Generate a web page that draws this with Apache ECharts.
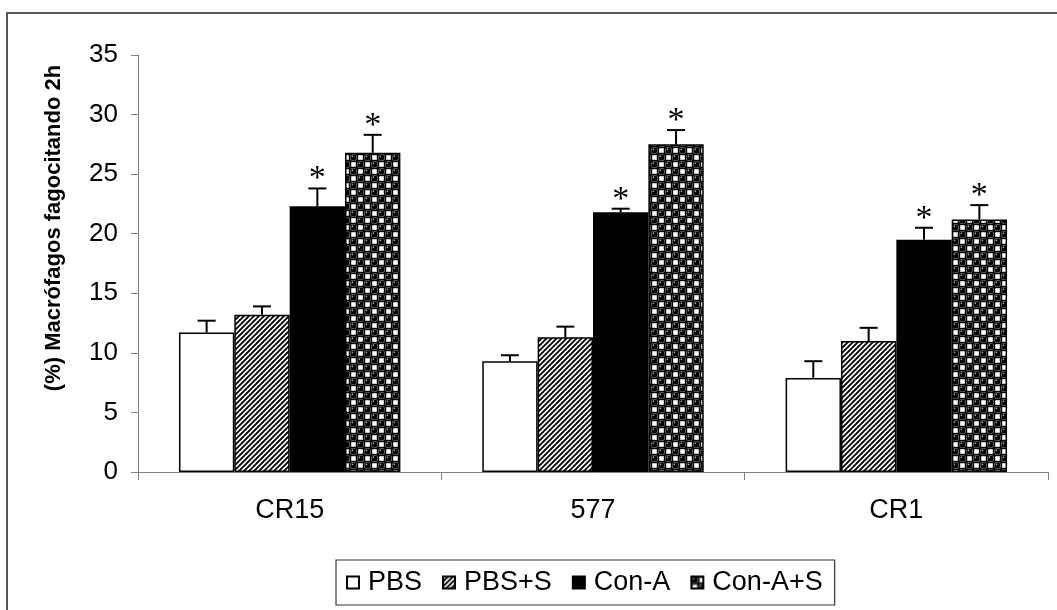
<!DOCTYPE html>
<html>
<head>
<meta charset="utf-8">
<script src="https://cdn.jsdelivr.net/npm/echarts@6/dist/echarts.min.js"></script>
<style>html,body{margin:0;padding:0;background:#fff}#c{width:1057px;height:610px}</style>
</head>
<body>
<div id="c"></div>
<script>
// ---- data ----
const categories = ['CR15', '577', 'CR1'];
const seriesNames = ['PBS', 'PBS+S', 'Con-A', 'Con-A+S'];
const pbs      = [11.7, 9.3, 7.9];
const pbsErr   = [1.0, 0.5, 1.4];
const pbsS     = [13.2, 11.3, 11.0];
const pbsSErr  = [0.7, 0.9, 1.1];
const conA     = [22.3, 21.8, 19.5];
const conAErr  = [1.5, 0.3, 1.0];
const conAS    = [26.8, 27.5, 21.2];
const conASErr = [1.5, 1.2, 1.2];
const signif   = [[0,0,0],[0,0,0],[1,1,1],[1,1,1]];
const yTicks   = [0, 5, 10, 15, 20, 25, 30, 35];
const yTitle   = '(%) Macrófagos fagocitando 2h';

const means = [pbs, pbsS, conA, conAS];
const errs  = [pbsErr, pbsSErr, conAErr, conASErr];

// ---- patterns ----
function hatchPattern() {
  const s = 5, c = document.createElement('canvas');
  c.width = s; c.height = s;
  const g = c.getContext('2d');
  g.fillStyle = '#fff'; g.fillRect(0, 0, s, s);
  g.strokeStyle = '#000'; g.lineWidth = 1.9;
  g.beginPath();
  g.moveTo(-1, s + 1); g.lineTo(s + 1, -1);
  g.moveTo(-1, 1); g.lineTo(1, -1);
  g.moveTo(s - 1, s + 1); g.lineTo(s + 1, s - 1);
  g.stroke();
  return c;
}
function ballPattern() {
  const cell = 7, s = cell * 2, c = document.createElement('canvas');
  c.width = s; c.height = s;
  const g = c.getContext('2d');
  g.fillStyle = '#000'; g.fillRect(0, 0, s, s);
  const w = 4.6;
  [[1, 0], [0, 1]].forEach(p => {
    const cx = p[0] * cell + cell / 2, cy = p[1] * cell + cell / 2;
    g.fillStyle = '#fff';
    g.fillRect(cx - w / 2, cy - w / 2, w, w);
  });
  [[0, 0], [1, 1]].forEach(p => {
    const cx = p[0] * cell + cell / 2, cy = p[1] * cell + cell / 2;
    g.fillStyle = '#8a8a8a';
    g.beginPath(); g.arc(cx, cy, 3.5, 0, Math.PI * 2); g.fill();
    g.fillStyle = '#000';
    g.beginPath(); g.arc(cx, cy, 2.9, 0, Math.PI * 2); g.fill();
    g.fillStyle = '#b0b0b0';
    g.beginPath(); g.arc(cx - 1.1, cy - 1.1, 0.8, 0, Math.PI * 2); g.fill();
  });
  return c;
}
const fills = [
  '#ffffff',
  { image: hatchPattern(), repeat: 'repeat' },
  '#000000',
  { image: ballPattern(), repeat: 'repeat' }
];

const GAP = 0.27;
const FONT = '"Liberation Sans", Arial, sans-serif';

const barSeries = seriesNames.map((n, i) => ({
  name: n,
  type: 'bar',
  data: means[i],
  barGap: '0%',
  barCategoryGap: (GAP * 100) + '%',
  itemStyle: { color: fills[i], borderColor: '#000', borderWidth: 1.5 },
  emphasis: { disabled: true },
  silent: true,
  z: 2
}));

const errData = [];
means.forEach((arr, si) => arr.forEach((v, ci) => {
  errData.push([ci, v, errs[si][ci], si, signif[si][ci]]);
}));

const errSeries = {
  type: 'custom',
  name: 'err',
  z: 5,
  silent: true,
  data: errData,
  encode: { x: 0, y: 1 },
  renderItem: function (params, api) {
    const ci = api.value(0), v = api.value(1), e = api.value(2), si = api.value(3), sig = api.value(4);
    const bandW = api.size([1, 0])[0];
    const barW = bandW * (1 - GAP) / 4;
    const base = api.coord([ci, v]);
    const top = api.coord([ci, v + e]);
    const x = base[0] + (si - 1.5) * barW;
    const st = { stroke: '#000', lineWidth: 2 };
    const children = [
      { type: 'line', shape: { x1: x, y1: base[1], x2: x, y2: top[1] }, style: st },
      { type: 'line', shape: { x1: x - 9, y1: top[1], x2: x + 9, y2: top[1] }, style: st }
    ];
    if (sig) {
      children.push({
        type: 'text',
        style: {
          text: '*', x: x, y: top[1] - 26,
          fill: '#000', font: '34px "Liberation Serif", "Times New Roman", serif',
          align: 'center', verticalAlign: 'top'
        }
      });
    }
    return { type: 'group', children: children };
  }
};

const chart = echarts.init(document.getElementById('c'), null, { renderer: 'canvas' });
chart.setOption({
  animation: false,
  backgroundColor: '#fff',
  grid: { left: 138, right: 9, top: 55, bottom: 138, containLabel: false, outerBoundsMode: 'none' },
  xAxis: {
    type: 'category',
    data: categories,
    axisLine: { lineStyle: { color: '#808080', width: 1 } },
    axisTick: { show: true, length: 8, lineStyle: { color: '#808080' } },
    axisLabel: { color: '#000', fontSize: 27, fontFamily: FONT, margin: 25 }
  },
  yAxis: {
    type: 'value',
    min: yTicks[0],
    max: yTicks[yTicks.length - 1],
    interval: yTicks[1] - yTicks[0],
    axisLine: { show: true, lineStyle: { color: '#808080', width: 1 } },
    axisTick: { show: true, length: 7, lineStyle: { color: '#808080' } },
    splitLine: { show: false },
    axisLabel: { color: '#000', fontSize: 26, fontFamily: FONT, margin: 20 }
  },
  legend: {
    data: seriesNames,
    left: 336,
    top: 560,
    orient: 'horizontal',
    itemWidth: 12,
    itemHeight: 12,
    itemGap: 20,
    padding: [9, 12, 9, 10],
    borderColor: '#333',
    borderWidth: 1.2,
    backgroundColor: '#fff',
    icon: 'rect',
    selectedMode: false,
    textStyle: { color: '#000', fontSize: 27, fontFamily: FONT, padding: [0, 0, 0, 4] }
  },
  graphic: [
    {
      type: 'rect', silent: true, z: -1,
      shape: { x: 7, y: 13, width: 1200, height: 800 },
      style: { fill: 'none', stroke: '#222', lineWidth: 1.5 }
    },
    {
      type: 'text', silent: true,
      x: 54, y: 228, rotation: Math.PI / 2,
      style: {
        text: yTitle, fill: '#000',
        font: 'bold 22px "Liberation Sans", Arial, sans-serif',
        align: 'center', verticalAlign: 'middle'
      }
    }
  ],
  series: barSeries.concat([errSeries])
});
</script>
</body>
</html>
